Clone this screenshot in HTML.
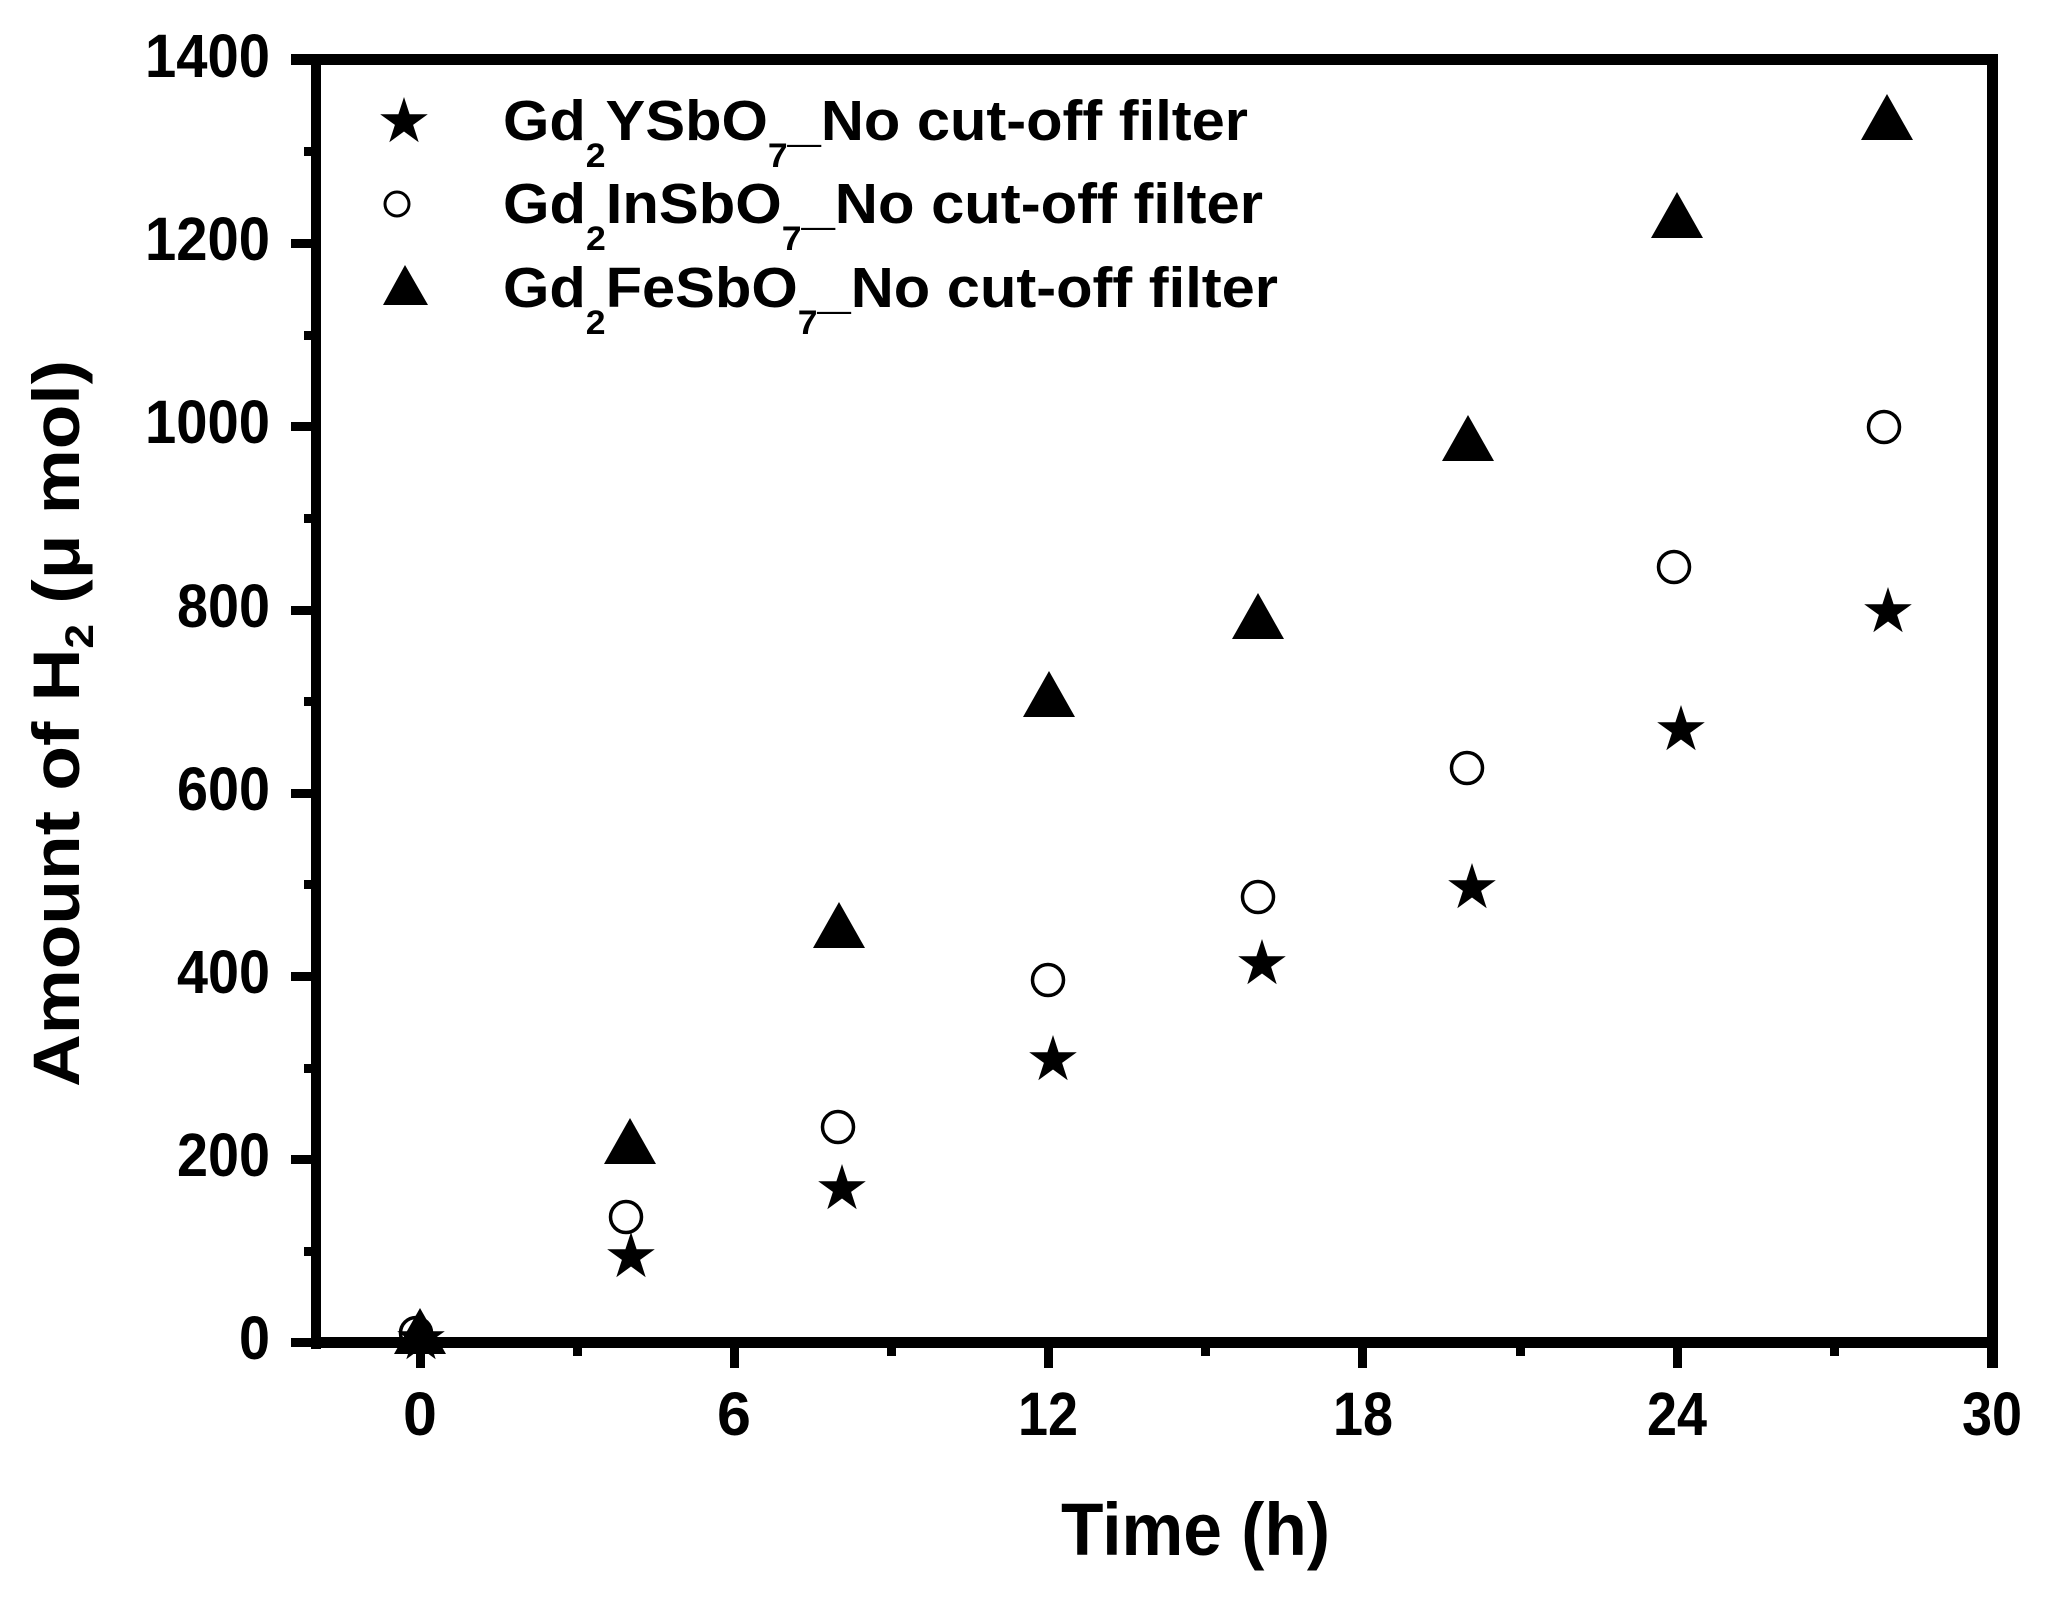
<!DOCTYPE html>
<html><head><meta charset="utf-8"><style>
html,body{margin:0;padding:0;background:#fff}
svg{display:block}
text{font-family:"Liberation Sans",Arial,sans-serif;font-weight:bold;fill:#000}
</style></head><body>
<svg width="2046" height="1599" viewBox="0 0 2046 1599" xmlns="http://www.w3.org/2000/svg">
<defs>
<polygon id="st" points="0,-25 5.6,-7.7 23.8,-7.7 9.1,2.9 14.7,20.2 0,9.5 -14.7,20.2 -9.1,2.9 -23.8,-7.7 -5.6,-7.7"/>
<polygon id="tr" points="0,-30 26,16 -26,16"/>
<circle id="ci" r="15.5" fill="none" stroke="#000" stroke-width="3.5"/>
</defs>
<!-- data at 0 (behind axis) -->
<use href="#tr" x="420" y="1338"/>
<use href="#ci" x="416" y="1333"/>
<use href="#st" x="421" y="1339"/>
<!-- axes -->
<g fill="#000">
<rect x="291" y="54" width="1707" height="11"/>
<rect x="311" y="54" width="10" height="1295"/>
<rect x="311" y="1337" width="1687" height="11"/>
<rect x="1987" y="54" width="11" height="1314"/>
<rect x="291" y="1338" width="22" height="9"/>
<rect x="291" y="1155" width="22" height="9"/>
<rect x="291" y="972" width="22" height="9"/>
<rect x="291" y="789" width="22" height="9"/>
<rect x="291" y="606" width="22" height="9"/>
<rect x="291" y="422" width="22" height="9"/>
<rect x="291" y="239" width="22" height="9"/>
<rect x="304" y="1247" width="9" height="9"/>
<rect x="304" y="1064" width="9" height="9"/>
<rect x="304" y="880" width="9" height="9"/>
<rect x="304" y="697" width="9" height="9"/>
<rect x="304" y="514" width="9" height="9"/>
<rect x="304" y="331" width="9" height="9"/>
<rect x="304" y="147" width="9" height="9"/>
<rect x="416" y="1345" width="9" height="23"/>
<rect x="730" y="1345" width="9" height="23"/>
<rect x="1044" y="1345" width="9" height="23"/>
<rect x="1358" y="1345" width="9" height="23"/>
<rect x="1673" y="1345" width="9" height="23"/>
<rect x="573" y="1345" width="9" height="11"/>
<rect x="887" y="1345" width="9" height="11"/>
<rect x="1201" y="1345" width="9" height="11"/>
<rect x="1516" y="1345" width="9" height="11"/>
<rect x="1830" y="1345" width="9" height="11"/>
</g>
<g font-size="61" text-anchor="end">
<text x="270" y="1359" textLength="31" lengthAdjust="spacingAndGlyphs">0</text>
<text x="270" y="1176" textLength="93" lengthAdjust="spacingAndGlyphs">200</text>
<text x="270" y="993" textLength="93" lengthAdjust="spacingAndGlyphs">400</text>
<text x="270" y="810" textLength="93" lengthAdjust="spacingAndGlyphs">600</text>
<text x="270" y="627" textLength="93" lengthAdjust="spacingAndGlyphs">800</text>
<text x="270" y="443" textLength="125" lengthAdjust="spacingAndGlyphs">1000</text>
<text x="270" y="260" textLength="125" lengthAdjust="spacingAndGlyphs">1200</text>
<text x="270" y="77" textLength="125" lengthAdjust="spacingAndGlyphs">1400</text>
</g>
<g font-size="61" text-anchor="middle">
<text x="420" y="1435">0</text>
<text x="734" y="1435">6</text>
<text x="1048" y="1435" textLength="60" lengthAdjust="spacingAndGlyphs">12</text>
<text x="1363" y="1435" textLength="60" lengthAdjust="spacingAndGlyphs">18</text>
<text x="1677" y="1435" textLength="60" lengthAdjust="spacingAndGlyphs">24</text>
<text x="1992" y="1435" textLength="60" lengthAdjust="spacingAndGlyphs">30</text>
</g>
<text x="1061" y="1555" font-size="74" textLength="269" lengthAdjust="spacingAndGlyphs">Time (h)</text>
<text transform="translate(79,1087) rotate(-90)" font-size="66" textLength="727" lengthAdjust="spacingAndGlyphs">Amount of H<tspan font-size="40" dy="14">2</tspan><tspan dy="-14"> (μ mol)</tspan></text>
<use href="#st" x="404" y="122"/>
<circle cx="397" cy="204" r="12" fill="none" stroke="#000" stroke-width="3"/>
<polygon points="405,265 428,305 383,305"/>
<g font-size="57">
<text x="503" y="140" textLength="745" lengthAdjust="spacingAndGlyphs">Gd<tspan font-size="34" dy="27">2</tspan><tspan dy="-27">YSbO</tspan><tspan font-size="34" dy="27">7</tspan><tspan dy="-27">_No cut-off filter</tspan></text>
<text x="503" y="223" textLength="760" lengthAdjust="spacingAndGlyphs">Gd<tspan font-size="34" dy="27">2</tspan><tspan dy="-27">InSbO</tspan><tspan font-size="34" dy="27">7</tspan><tspan dy="-27">_No cut-off filter</tspan></text>
<text x="503" y="307" textLength="775" lengthAdjust="spacingAndGlyphs">Gd<tspan font-size="34" dy="27">2</tspan><tspan dy="-27">FeSbO</tspan><tspan font-size="34" dy="27">7</tspan><tspan dy="-27">_No cut-off filter</tspan></text>
</g>
<use href="#tr" x="630" y="1148"/>
<use href="#tr" x="839" y="932"/>
<use href="#tr" x="1049" y="701"/>
<use href="#tr" x="1258" y="623"/>
<use href="#tr" x="1468" y="445"/>
<use href="#tr" x="1677" y="222"/>
<use href="#tr" x="1887" y="124"/>
<use href="#ci" x="626" y="1217"/>
<use href="#ci" x="838" y="1127"/>
<use href="#ci" x="1048" y="980"/>
<use href="#ci" x="1258" y="897"/>
<use href="#ci" x="1467" y="768"/>
<use href="#ci" x="1674" y="567"/>
<use href="#ci" x="1884" y="427"/>
<use href="#st" x="631" y="1257"/>
<use href="#st" x="842" y="1189"/>
<use href="#st" x="1053" y="1060"/>
<use href="#st" x="1262" y="964"/>
<use href="#st" x="1472" y="888"/>
<use href="#st" x="1681" y="730"/>
<use href="#st" x="1888" y="612"/>
</svg>
</body></html>
